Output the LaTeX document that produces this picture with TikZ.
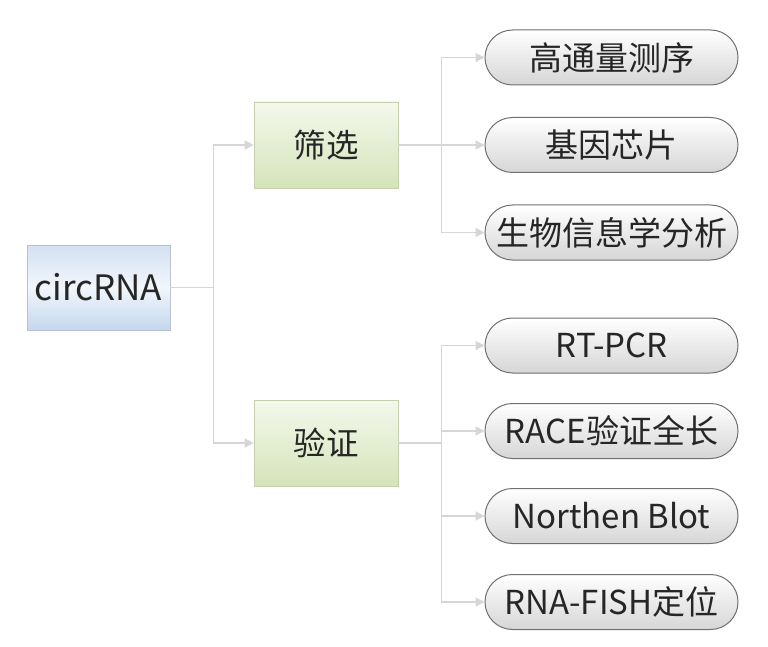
\documentclass[tikz,border=0pt]{standalone}
\usepackage{fontspec}
\setmainfont{Noto Sans CJK SC}
\usetikzlibrary{arrows.meta,shapes.misc}
\definecolor{linegray}{HTML}{D6D6D6}
\definecolor{pillborder}{HTML}{707070}
\definecolor{bluetop}{HTML}{D3E1F2}
\definecolor{bluebot}{HTML}{C3D7EE}
\definecolor{greentop}{HTML}{F4F8EC}
\definecolor{greenbot}{HTML}{D5E4BA}
\definecolor{pillbot}{HTML}{D6D6D6}
\tikzset{
  conn/.style={draw=linegray, line width=1.2pt},
  arr/.style={conn, -{Triangle[length=9pt,width=9pt,fill=linegray]}},
  bluebox/.style={draw=bluetop!70!gray, line width=0.6pt, minimum width=143pt, minimum height=85pt,
    top color=bluetop, bottom color=bluebot, middle color=white!70!bluetop,
    font=\fontsize{35}{40}\selectfont, text=black!85},
  greenbox/.style={draw=greenbot!80!gray, line width=0.6pt, minimum width=144pt, minimum height=86pt,
    top color=greentop, bottom color=greenbot,
    font=\fontsize{32.5}{38}\selectfont, text=black!85},
  pill/.style={rounded rectangle, draw=pillborder, line width=1pt, minimum width=257pt, minimum height=55pt,
    top color=white, bottom color=pillbot, inner xsep=2pt,
    font=\fontsize{33}{38}\selectfont, text=black!85},
}
\begin{document}
\begin{tikzpicture}[x=1pt,y=-1pt]
\useasboundingbox[fill=white] (0,0) rectangle (768,647);

\node[bluebox] (c) at (98.5,287.5) {circRNA};
\node[greenbox] (s) at (326,145) {筛选};
\node[greenbox] (v) at (326,443) {验证};

\node[pill] (p1) at (611.5,57.5) {高通量测序};
\node[pill] (p2) at (611.5,145) {基因芯片};
\node[pill] (p3) at (611.5,232.5) {生物信息学分析};

\node[pill] (q1) at (611.5,345.5) {RT-PCR};
\node[pill] (q2) at (611.5,431) {RACE验证全长};
\node[pill] (q3) at (611.5,516) {Northen Blot};
\node[pill] (q4) at (611.5,602) {RNA-FISH定位};

\draw[conn] (c.east) -- ++(43,0) coordinate (j1);
\draw[arr] (j1) |- (s.west);
\draw[arr] (j1) |- (v.west);

\draw[conn] (s.east) -- ++(43,0) coordinate (j2);
\draw[arr] (j2) |- (p1.west);
\draw[arr] (j2) -- (p2.west);
\draw[arr] (j2) |- (p3.west);

\draw[conn] (v.east) -- ++(43,0) coordinate (j3);
\draw[arr] (j3) |- (q1.west);
\draw[arr] (j3) |- (q2.west);
\draw[arr] (j3) |- (q3.west);
\draw[arr] (j3) |- (q4.west);
\end{tikzpicture}
\end{document}
